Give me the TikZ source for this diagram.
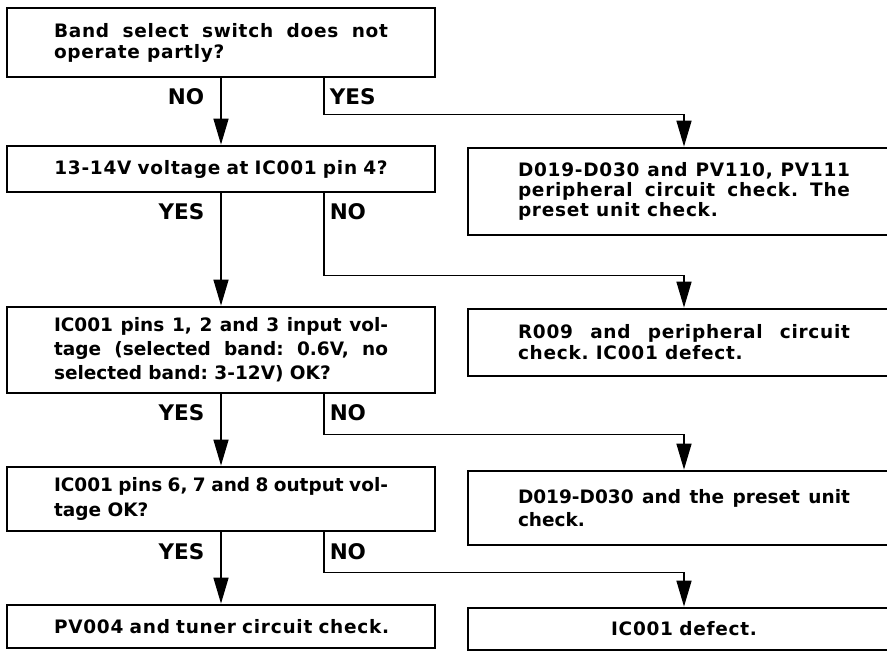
\documentclass[tikz,border=0pt]{standalone}
\usepackage{fontspec}
\setmainfont{DejaVu Sans}
\newfontfamily\boxfont{DejaVu Sans}[LetterSpace=4]
\usetikzlibrary{arrows.meta}

\begin{document}
\begin{tikzpicture}[
    x=1pt, y=-1pt,
    box/.style={rectangle, draw, line width=2.8pt, minimum width=428pt, text width=334pt, align=justify, inner sep=0pt, font=\boxfont\fontsize{18.5}{21}\selectfont\bfseries\frenchspacing},
    mid/.style={box, align=center},
    res/.style={box, minimum width=432pt, text width=332pt},
    ans/.style={inner sep=2pt, font=\fontsize{21.5}{24}\selectfont\bfseries},
    flow/.style={draw, line width=1.5pt, -{Triangle[length=26pt, width=15pt]}}
]
\useasboundingbox (0,0) rectangle (887,652);

% questions, left column
\node[box, minimum height=69pt] (sw) at (221,42.5) {Band select switch does not\linebreak operate partly?};
\node[mid, minimum height=46pt] (vcc) at (221,169) {13-14V voltage at IC001 pin 4?};
\node[box, minimum height=86pt, font=\fontsize{18.5}{24}\selectfont\bfseries\frenchspacing] (inp) at (221,350) {IC001 pins 1, 2 and 3 input vol-\linebreak tage (selected band: 0.6V, no\linebreak selected band: 3-12V) OK?};
\node[box, minimum height=64pt, font=\fontsize{18.5}{25}\selectfont\bfseries\frenchspacing] (outp) at (221,499) {IC001 pins 6, 7 and 8 output vol-\linebreak tage OK?};
\node[mid, minimum height=43pt] (tuner) at (221,626.5) {PV004 and tuner circuit check.};

% checks, right column
\node[res, minimum height=87pt, font=\boxfont\fontsize{18.5}{20}\selectfont\bfseries\frenchspacing] (preset) at (684,191.5) {D019-D030 and PV110, PV111\linebreak peripheral circuit check. The\linebreak preset unit check.};
\node[res, minimum height=67pt] (rchk) at (684,342.5) {R009 and peripheral circuit\linebreak check. IC001 defect.};
\node[res, minimum height=74pt, font=\fontsize{18.5}{23}\selectfont\bfseries\frenchspacing] (dchk) at (684,508) {D019-D030 and the preset unit\linebreak check.};
\node[res, align=center, minimum height=42pt] (icdef) at (684,629) {IC001 defect.};

% main line
\draw[flow] (sw) -- node[ans, at start, anchor=north east, xshift=-14pt, yshift=-7pt] {NO} (vcc);
\draw[flow] (vcc) -- node[ans, at start, anchor=north east, xshift=-14pt, yshift=-7pt] {YES} (inp);
\draw[flow] (inp) -- node[ans, at start, anchor=north east, xshift=-14pt, yshift=-7pt] {YES} (outp);
\draw[flow] (outp) -- node[ans, at start, anchor=north east, xshift=-14pt, yshift=-8pt] {YES} (tuner);

% side branches
\draw[flow] ([xshift=103pt]sw.south) -- node[ans, at start, anchor=north west, xshift=3pt, yshift=-7pt] {YES} ++(0,36) -| (preset.north);
\draw[flow] ([xshift=103pt]vcc.south) -- node[ans, at start, anchor=north west, xshift=3pt, yshift=-7pt] {NO} ++(0,82) -| (rchk.north);
\draw[flow] ([xshift=103pt]inp.south) -- node[ans, at start, anchor=north west, xshift=3pt, yshift=-7pt] {NO} ++(0,40) -| (dchk.north);
\draw[flow] ([xshift=103pt]outp.south) -- node[ans, at start, anchor=north west, xshift=3pt, yshift=-8pt] {NO} ++(0,40) -| (icdef.north);
\end{tikzpicture}
\end{document}
